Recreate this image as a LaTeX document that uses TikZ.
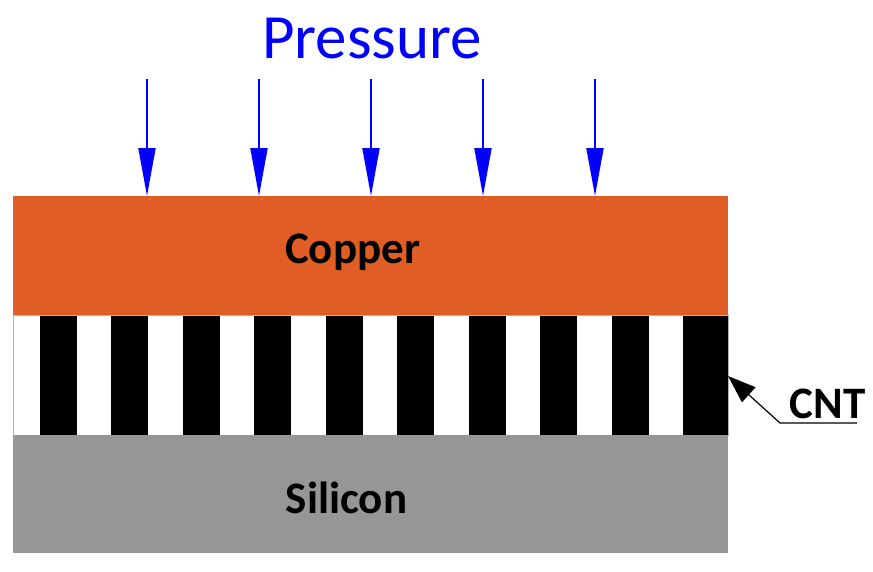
\documentclass[tikz,border=0pt]{standalone}
\usepackage{fontspec}
\setmainfont{Carlito}
\usepackage{tikz}
\usetikzlibrary{arrows.meta}

\definecolor{copperc}{RGB}{224,93,37}
\definecolor{siliconc}{RGB}{150,150,150}
\definecolor{pressc}{RGB}{0,0,255}

\begin{document}
\begin{tikzpicture}[x=1pt,y=-1pt,>=Stealth,
  lbl/.style={anchor=base,font=\bfseries\fontsize{45}{50}\selectfont},
  push/.style={pressc,line width=2pt,-{Triangle[length=48pt,width=17pt]}}]
  \useasboundingbox (0,0) rectangle (873,571);
  % copper layer on top
  \fill[copperc] (13,196) rectangle (728,315);
  % CNT layer, white with black stripes
  \fill[white] (13,315) rectangle (728,435);
  \foreach \i in {0,...,8}
    \fill[black] ({40+71.44*\i},315) rectangle ({77+71.44*\i},435);
  \fill[black] (683,315) rectangle (728,435);
  \draw[gray!60,thin] (13,315) rectangle (728,435);
  % silicon substrate
  \fill[siliconc] (13,435) rectangle (728,553);
  % layer names
  \node[lbl] (copper) at (352.5,263) {Copper};
  \node[lbl] (silicon) at (346.5,513) {Silicon};
  % pressure arrows
  \node[anchor=base,pressc,font=\fontsize{63}{70}\selectfont] (press) at (372,58) {Pressure};
  \foreach \x in {147,259,371,483,595}
    \draw[push] (\x,79) -- (\x,196);
  % CNT callout
  \node[lbl] (cntlbl) at (827.5,418) {CNT};
  \coordinate (cnttip) at (728,376);
  \coordinate (bend) at (780,423);
  \coordinate (lineend) at (857,423);
  \draw[line width=1.2pt,-{Triangle[length=28pt,width=20pt]}] (lineend) -- (bend) -- (cnttip);
\end{tikzpicture}
\end{document}
